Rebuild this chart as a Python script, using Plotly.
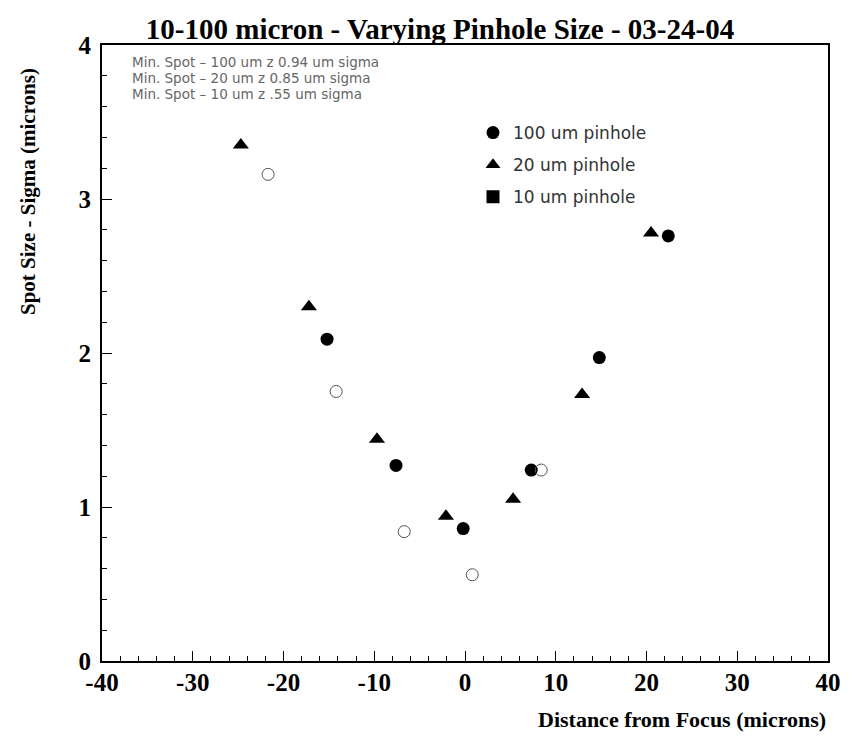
import plotly.graph_objects as go

# 100 um pinhole (filled circles)
x100 = [-15.2, -7.6, -0.2, 7.3, 14.8, 22.4]
y100 = [2.09, 1.27, 0.86, 1.24, 1.97, 2.76]
# 20 um pinhole (triangles)
x20 = [-24.7, -17.2, -9.7, -2.1, 5.3, 12.9, 20.5]
y20 = [3.35, 2.30, 1.44, 0.94, 1.05, 1.73, 2.78]
# 10 um pinhole (open circles)
x10 = [-21.7, -14.2, -6.7, 0.8, 8.4]
y10 = [3.16, 1.75, 0.84, 0.56, 1.24]

legend_labels = ["100 um pinhole", "20 um pinhole", "10 um pinhole"]
notes = ["Min. Spot \u2013 100 um z 0.94 um sigma",
         "Min. Spot \u2013 20 um z 0.85 um sigma",
         "Min. Spot \u2013 10 um z .55 um sigma"]
x_ticks = [-40, -30, -20, -10, 0, 10, 20, 30, 40]
y_ticks = [0, 1, 2, 3, 4]

# page is offset by the 8px body margin
OFF = 8
W, H = 859 - OFF, 736 - OFF
L, R, T, B = 102 - OFF, 828 - OFF, 45 - OFF, 661 - OFF

def px(x):
    return (x - OFF - L) / (R - L)

def py(y):
    return (B - (y - OFF)) / (B - T)

fig = go.Figure()
fig.add_trace(go.Scatter(x=x100, y=y100, mode="markers", showlegend=False,
                         marker=dict(symbol="circle", size=13, color="black", line=dict(width=0))))
fig.add_trace(go.Scatter(x=x20, y=y20, mode="markers", showlegend=False,
                         marker=dict(symbol="triangle-up", size=14, color="black", line=dict(width=0))))
fig.add_trace(go.Scatter(x=x10, y=y10, mode="markers", showlegend=False,
                         marker=dict(symbol="circle-open", size=12, color="#555", line=dict(width=1))))

# legend entries (as drawn in the reference)
for lab, sym, grp in zip(legend_labels, ["circle", "triangle-up", "square"], ["a", "b", "c"]):
    fig.add_trace(go.Scatter(x=[None], y=[None], mode="markers", name=lab, legendgroup=grp,
                             marker=dict(symbol=sym, size=13, color="black")))

serif = "Liberation Serif"
sans = "DejaVu Sans"

for i, t in enumerate(notes):
    fig.add_annotation(text=t, xref="paper", yref="paper", x=px(130), y=py(62 + 16 * i),
                       xanchor="left", yanchor="middle", showarrow=False,
                       font=dict(family=sans, size=13.5, color="#666"))

fig.add_annotation(text="Spot Size - Sigma (microns)", textangle=-90, xref="paper", yref="paper",
                   x=px(28), y=py(192), xanchor="center", yanchor="middle", showarrow=False,
                   font=dict(family=serif, size=21, color="black", weight="bold"))
fig.add_annotation(text="Distance from Focus (microns)", xref="paper", yref="paper",
                   x=1.0, y=py(719), xanchor="right", yanchor="middle", showarrow=False,
                   font=dict(family=serif, size=22, color="black", weight="bold"))

axis_common = dict(showgrid=False, zeroline=False, showline=True, linecolor="black", linewidth=2,
                   mirror=True, ticks="inside", tickcolor="black", ticklen=10, tickwidth=1,
                   tickfont=dict(family=serif, size=25, color="black", weight="bold"))

fig.update_xaxes(range=[-40, 40], tickvals=x_ticks, ticktext=[str(v) for v in x_ticks],
                 minor=dict(dtick=2, ticks="inside", ticklen=5, tickcolor="black"),
                 ticklabelstandoff=-2, **axis_common)
fig.update_yaxes(range=[0, 4], tickvals=y_ticks, ticktext=[str(v) for v in y_ticks],
                 minor=dict(dtick=0.2, ticks="inside", ticklen=5, tickcolor="black"),
                 ticklabelstandoff=4, **axis_common)

fig.update_layout(
    width=W, height=H,
    margin=dict(l=L, r=W - R, t=T, b=H - B, autoexpand=False),
    paper_bgcolor="white", plot_bgcolor="white",
    title=dict(text="10-100 micron - Varying Pinhole Size - 03-24-04", x=(440 - OFF) / W, xanchor="center",
               yref="container", y=1 - 21 / H, yanchor="middle",
               font=dict(family=serif, size=29, color="black", weight="bold")),
    legend=dict(x=px(473), y=py(115), xanchor="left", yanchor="top", bgcolor="rgba(0,0,0,0)",
                tracegroupgap=7, font=dict(family=sans, size=17, color="#333")),
)

fig.write_html("out.html")
